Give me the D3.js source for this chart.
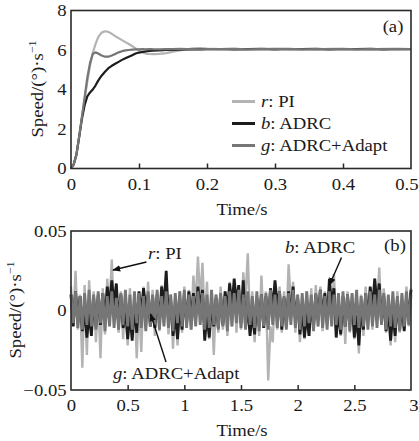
<!DOCTYPE html>
<html>
<head>
<meta charset="utf-8">
<script src="https://cdn.jsdelivr.net/npm/d3@7"></script>
<style>
  html, body { margin: 0; padding: 0; background: #fff; }
  svg text { font-family: "Liberation Serif", "Times New Roman", serif; fill: #1a1a1a; }
</style>
</head>
<body>
<svg id="chart" width="419" height="441"></svg>
<script>
// ---------- Panel (a): step response ----------
const timeA = [0, 0.004, 0.008, 0.012, 0.016, 0.020, 0.024, 0.028, 0.032, 0.036, 0.040,
  0.045, 0.050, 0.055, 0.060, 0.065, 0.070, 0.075, 0.080, 0.085, 0.090, 0.095, 0.100,
  0.105, 0.110, 0.115, 0.120, 0.130, 0.140, 0.150, 0.160, 0.170, 0.180, 0.190, 0.200,
  0.220, 0.240, 0.260, 0.280, 0.300, 0.320, 0.340, 0.360, 0.380, 0.400, 0.420, 0.440,
  0.460, 0.480, 0.500];
const piA = [0, 0.25, 0.75, 1.6, 2.6, 3.5, 4.4, 5.2, 5.85, 6.3, 6.65,
  6.88, 6.95, 6.92, 6.82, 6.7, 6.6, 6.5, 6.4, 6.3, 6.2, 6.08, 5.97,
  5.88, 5.82, 5.8, 5.79, 5.8, 5.84, 5.92, 5.98, 6.03, 6.08, 6.1, 6.07,
  6.04, 6.06, 6.03, 6.05, 6.07, 6.04, 6.05, 6.03, 6.06, 6.04, 6.05, 6.03,
  6.06, 6.04, 6.05];
const adrcA = [0, 0.2, 0.7, 1.6, 2.5, 3.2, 3.65, 3.85, 4.0, 4.2, 4.45,
  4.7, 4.9, 5.08, 5.2, 5.3, 5.4, 5.5, 5.58, 5.66, 5.74, 5.82, 5.87,
  5.9, 5.93, 5.95, 5.97, 5.98, 6.0, 6.01, 6.02, 6.03, 6.04, 6.03, 6.04,
  6.05, 6.03, 6.04, 6.06, 6.03, 6.05, 6.04, 6.06, 6.03, 6.05, 6.04, 6.06,
  6.03, 6.05, 6.04];
const adaptA = [0, 0.2, 0.7, 1.6, 2.6, 3.6, 4.6, 5.35, 5.8, 5.88, 5.82,
  5.72, 5.66, 5.66, 5.72, 5.8, 5.88, 5.94, 5.98, 6.0, 6.02, 6.03, 6.03,
  6.04, 6.03, 6.05, 6.04, 6.03, 6.05, 6.04, 6.06, 6.04, 6.05, 6.03, 6.05,
  6.04, 6.06, 6.03, 6.05, 6.04, 6.06, 6.03, 6.05, 6.04, 6.06, 6.03, 6.05,
  6.04, 6.06, 6.04];
const xTicksA = [0, 0.1, 0.2, 0.3, 0.4, 0.5];
const yTicksA = [0, 2, 4, 6, 8];

// ---------- Panel (b): steady-state fluctuation, sampled every 0.02 s ----------
const stepB = 0.02;
const piB = [
  0.015,-0.008,0.025,-0.012,0.010,-0.036,0.016,-0.028,0.019,-0.010,
  0.012,-0.020,0.008,-0.030,0.014,-0.015,0.020,0.002,0.032,-0.006,
  0.016,-0.014,0.012,-0.018,0.010,-0.022,0.014,-0.016,0.008,-0.030,
  0.006,-0.026,0.015,-0.012,0.018,-0.010,0.013,-0.016,0.011,-0.013,
  0.016,-0.008,0.020,-0.015,0.010,-0.024,0.006,-0.022,0.012,-0.014,
  0.015,-0.010,0.013,-0.012,0.022,0.004,0.034,0.006,0.030,-0.008,
  0.018,-0.018,0.008,-0.028,0.010,-0.014,0.015,-0.012,0.012,-0.016,
  0.018,-0.010,0.016,-0.014,0.012,-0.012,0.024,0.008,0.036,-0.010,
  0.012,-0.020,0.010,-0.016,0.022,-0.008,0.012,-0.044,-0.010,-0.020,
  0.014,-0.012,0.015,-0.014,0.012,-0.010,0.029,0.004,0.018,-0.014,
  0.010,-0.020,0.008,-0.018,0.012,-0.016,0.014,-0.012,0.016,-0.010,
  0.015,-0.013,0.012,-0.010,0.018,-0.006,0.023,-0.012,0.010,-0.016,
  0.008,-0.021,0.012,-0.014,0.010,-0.018,0.006,-0.027,0.010,-0.016,
  0.015,-0.010,0.014,-0.012,0.020,0.002,0.027,-0.008,0.014,-0.014,
  0.008,-0.022,0.010,-0.020,0.012,-0.014,0.010,-0.012,0.015,-0.010,
  0.014];
const adrcB = [
  0.010,-0.010,0.012,-0.008,0.009,-0.013,0.001,-0.017,-0.002,-0.016,
  0.008,-0.010,0.010,-0.009,0.011,-0.006,0.015,0.002,0.019,0.003,
  0.017,-0.008,0.010,-0.011,0.001,-0.018,-0.002,-0.019,0.003,-0.014,
  0.012,-0.002,0.014,0.001,0.010,-0.010,0.009,-0.011,0.010,-0.008,
  0.015,0.002,0.025,-0.006,0.006,-0.016,-0.002,-0.018,0.004,-0.012,
  0.010,-0.008,0.012,-0.006,0.011,-0.004,0.015,0.001,0.013,-0.019,
  -0.002,-0.017,0.006,-0.010,0.008,-0.011,0.010,-0.009,0.012,0.000,
  0.017,0.002,0.020,0.004,0.016,-0.008,0.019,-0.010,0.002,-0.016,
  -0.001,-0.015,0.008,-0.010,0.010,-0.011,0.009,-0.009,0.014,0.001,
  0.019,0.003,0.012,-0.012,0.008,-0.010,0.012,-0.004,0.015,-0.006,
  0.008,-0.015,0.001,-0.017,-0.002,-0.016,0.005,-0.010,0.010,-0.006,
  0.013,-0.004,0.011,-0.008,0.020,0.003,0.014,-0.017,0.000,-0.015,
  0.009,-0.010,0.010,-0.009,0.006,-0.017,-0.003,-0.022,0.002,-0.012,
  0.011,-0.006,0.015,0.001,0.020,0.003,0.017,-0.008,0.009,-0.013,
  0.001,-0.019,-0.002,-0.016,0.007,-0.012,0.004,-0.013,0.008,-0.004,
  0.013];
const adaptB = [
  0.010,-0.008,0.012,-0.011,0.009,-0.012,0.011,-0.009,0.013,-0.010,
  0.010,-0.012,0.012,-0.008,0.011,-0.013,0.009,-0.010,0.012,-0.011,
  0.008,-0.012,0.011,-0.009,0.013,-0.010,0.010,-0.012,0.012,-0.008,
  0.011,-0.011,0.009,-0.013,0.012,-0.010,0.010,-0.009,0.013,-0.012,
  0.009,-0.010,0.012,-0.011,0.010,-0.013,0.011,-0.008,0.012,-0.010,
  0.013,-0.011,0.010,-0.012,0.009,-0.010,0.012,-0.009,0.011,-0.012,
  0.010,-0.011,0.013,-0.009,0.010,-0.012,0.011,-0.010,0.009,-0.013,
  0.012,-0.010,0.011,-0.008,0.013,-0.011,0.010,-0.012,0.012,-0.009,
  0.009,-0.011,0.012,-0.013,0.010,-0.010,0.011,-0.012,0.013,-0.009,
  0.010,-0.011,0.012,-0.010,0.009,-0.012,0.011,-0.009,0.013,-0.011,
  0.010,-0.012,0.011,-0.010,0.012,-0.008,0.010,-0.013,0.011,-0.010,
  0.013,-0.011,0.009,-0.012,0.012,-0.010,0.010,-0.009,0.011,-0.012,
  0.012,-0.010,0.010,-0.013,0.011,-0.009,0.013,-0.011,0.009,-0.010,
  0.011,-0.012,0.012,-0.010,0.010,-0.011,0.013,-0.009,0.011,-0.012,
  0.010,-0.010,0.012,-0.011,0.009,-0.013,0.011,-0.010,0.012,-0.009,
  0.010];
const xTicksB = [0, 0.5, 1, 1.5, 2, 2.5, 3];
const yTicksB = [-0.05, 0, 0.05];

// ---------- styling ----------
const C_PI = "#b3b3b3", C_ADRC = "#1c1c1c", C_ADAPT = "#767676", C_AXIS = "#2a2a2a";
const FS = 17, SX = 1.1;
const svg = d3.select("#chart");

const defs = svg.append("defs");
defs.append("marker").attr("id", "arr").attr("viewBox", "0 0 10 10")
  .attr("refX", 9).attr("refY", 5).attr("markerWidth", 8).attr("markerHeight", 8)
  .attr("markerUnits", "userSpaceOnUse").attr("orient", "auto")
  .append("path").attr("d", "M0,1 L10,5 L0,9 Z").attr("fill", "#111");

function label(x, y, parts, opts = {}) {
  const t = svg.append("text")
    .attr("transform", `translate(${x},${y}) ${opts.rotate ? "rotate(-90)" : ""} scale(${SX},1)`)
    .attr("text-anchor", opts.anchor || "start")
    .attr("font-size", opts.size || FS);
  parts.forEach(p => {
    const ts = t.append("tspan").text(p.t);
    if (p.i) ts.attr("font-style", "italic");
    if (p.sup) ts.attr("font-size", 11).attr("dy", -7);
  });
  return t;
}

function panel(x, y, xt, yt, fmtY, padX) {
  const top = y.range()[1], bot = y.range()[0], left = x.range()[0], right = x.range()[1];
  const gx = svg.append("g").attr("transform", `translate(0,${bot})`)
    .call(d3.axisBottom(x).tickValues(xt).tickSize(-5).tickPadding(padX).tickFormat(d3.format("")));
  gx.select(".domain").remove();
  gx.selectAll(".tick line").attr("stroke", C_AXIS).attr("stroke-width", 1.5)
    .filter(d => d === xt[0] || d === xt[xt.length - 1]).remove();
  gx.selectAll(".tick text").attr("font-size", FS).attr("fill", "#1a1a1a")
    .attr("transform", `scale(${SX},1)`);
  gx.selectAll(".tick text").filter(d => d === xt[xt.length - 1])
    .attr("text-anchor", "end").attr("x", (418 - right) / SX);
  const gy = svg.append("g").attr("transform", `translate(${left},0)`)
    .call(d3.axisLeft(y).tickValues(yt).tickSize(0).tickPadding(4).tickFormat(fmtY));
  gy.select(".domain").remove();
  gy.selectAll(".tick text").attr("font-size", FS).attr("fill", "#1a1a1a")
    .attr("transform", `scale(${SX},1)`);
  return { top, bot, left, right };
}

function frame(b) {
  svg.append("rect").attr("x", b.left).attr("y", b.top)
    .attr("width", b.right - b.left).attr("height", b.bot - b.top)
    .attr("fill", "none").attr("stroke", C_AXIS).attr("stroke-width", 1.6);
}

// ---------- panel (a) ----------
const xA = d3.scaleLinear([0, 0.5], [71, 411]);
const yA = d3.scaleLinear([0, 8], [168.5, 10.5]);
const bA = panel(xA, yA, xTicksA, yTicksA, d3.format(""), 9);

const lineA = vals => d3.line().x((d, i) => xA(timeA[i])).y(d => yA(d))(vals);
[[piA, C_PI], [adrcA, C_ADRC], [adaptA, C_ADAPT]].forEach(([v, c]) => {
  svg.append("path").attr("d", lineA(v)).attr("fill", "none")
    .attr("stroke", c).attr("stroke-width", 2.2).attr("stroke-linejoin", "round");
});
frame(bA);

label(393, 32, [{ t: "(a)" }], { anchor: "middle" });
label(242, 215, [{ t: "Time/s" }], { anchor: "middle" });
label(43, 89, [{ t: "Speed/(°)·s" }, { t: "−1", sup: true }], { anchor: "middle", rotate: true });

const legend = [
  { c: C_PI, k: "r", n: ": PI" },
  { c: C_ADRC, k: "b", n: ": ADRC" },
  { c: C_ADAPT, k: "g", n: ": ADRC+Adapt" }
];
legend.forEach((d, i) => {
  const by = 107 + i * 22;
  svg.append("line").attr("x1", 232).attr("x2", 255).attr("y1", by - 5.5).attr("y2", by - 5.5)
    .attr("stroke", d.c).attr("stroke-width", 3);
  label(261, by, [{ t: d.k, i: true }, { t: d.n }]);
});

// ---------- panel (b) ----------
const xB = d3.scaleLinear([0, 3], [71, 411]);
const yB = d3.scaleLinear([-0.05, 0.05], [390, 231]);
const bB = panel(xB, yB, xTicksB, yTicksB, d => d === 0 ? "0" : (d < 0 ? "−" : "") + Math.abs(d).toFixed(2), 9);

const lineB = d3.line().x((d, i) => xB(i * stepB)).y(d => yB(d));
[[piB, C_PI, 2.4], [adrcB, C_ADRC, 2.8], [adaptB, C_ADAPT, 2.8]].forEach(([v, c, w]) => {
  svg.append("path").attr("d", lineB(v)).attr("fill", "none")
    .attr("stroke", c).attr("stroke-width", w).attr("stroke-linejoin", "bevel");
});
frame(bB);

label(395, 251, [{ t: "(b)" }], { anchor: "middle" });
label(242, 436, [{ t: "Time/s" }], { anchor: "middle" });
label(21, 310, [{ t: "Speed/(°)·s" }, { t: "−1", sup: true }], { anchor: "middle", rotate: true });

label(148, 258.5, [{ t: "r", i: true }, { t: ": PI" }]);
label(285, 253, [{ t: "b", i: true }, { t: ": ADRC" }]);
label(113, 378.5, [{ t: "g", i: true }, { t: ": ADRC+Adapt" }]);

const arrows = [
  [146.5, 262, 113, 270],
  [341.5, 257.5, 329.5, 285],
  [166, 362, 150.5, 314]
];
arrows.forEach(a => {
  svg.append("line").attr("x1", a[0]).attr("y1", a[1]).attr("x2", a[2]).attr("y2", a[3])
    .attr("stroke", "#111").attr("stroke-width", 1.4).attr("marker-end", "url(#arr)");
});
</script>
</body>
</html>
